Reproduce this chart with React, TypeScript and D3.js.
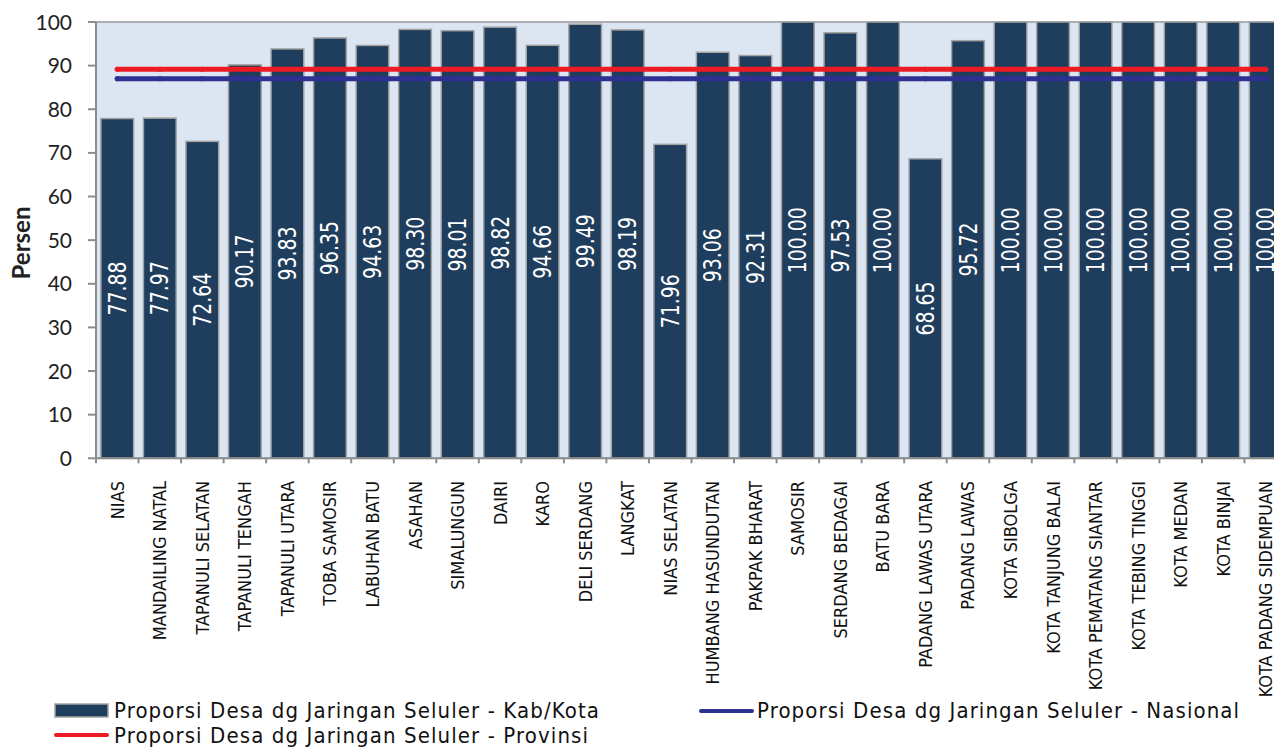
import React, { useEffect, useRef } from 'react';
import * as d3 from 'd3';

// kabupaten / kota
const categories = [
  'NIAS', 'MANDAILING NATAL', 'TAPANULI SELATAN', 'TAPANULI TENGAH', 'TAPANULI UTARA',
  'TOBA SAMOSIR', 'LABUHAN BATU', 'ASAHAN', 'SIMALUNGUN', 'DAIRI', 'KARO',
  'DELI SERDANG', 'LANGKAT', 'NIAS SELATAN', 'HUMBANG HASUNDUTAN', 'PAKPAK BHARAT',
  'SAMOSIR', 'SERDANG BEDAGAI', 'BATU BARA', 'PADANG LAWAS UTARA', 'PADANG LAWAS',
  'KOTA SIBOLGA', 'KOTA TANJUNG BALAI', 'KOTA PEMATANG SIANTAR', 'KOTA TEBING TINGGI',
  'KOTA MEDAN', 'KOTA BINJAI', 'KOTA PADANG SIDEMPUAN',
];
const kabKota = [
  77.88, 77.97, 72.64, 90.17, 93.83, 96.35, 94.63, 98.3, 98.01, 98.82, 94.66,
  99.49, 98.19, 71.96, 93.06, 92.31, 100, 97.53, 100, 68.65, 95.72,
  100, 100, 100, 100, 100, 100, 100,
];
const provinsi = 89.16;
const nasional = 87.0;
const yTicks = [0, 10, 20, 30, 40, 50, 60, 70, 80, 90, 100];

const labelBar = 'Proporsi Desa dg Jaringan Seluler - Kab/Kota';
const labelProv = 'Proporsi Desa dg Jaringan Seluler - Provinsi';
const labelNas = 'Proporsi Desa dg Jaringan Seluler - Nasional';

const W = 1274, H = 748;
const left = 96, right = 1287, top = 22, bottom = 458.3;
const BAR = '#1f3d5c', BAR_STROKE = '#a3a3a3', RED = '#ed1c24', BLUE = '#2e3192';
const CONDENSED = '"DejaVu Sans Condensed", "DejaVu Sans", sans-serif';

export default function App() {
  const ref = useRef<SVGSVGElement>(null);

  useEffect(() => {
    const svg = d3.select(ref.current);
    svg.selectAll('*').remove();

    const x = d3.scaleBand<string>().domain(categories).range([left, right])
      .paddingInner(0.23).paddingOuter(0.115);
    const y = d3.scaleLinear().domain([0, 100]).range([bottom, top]);
    const cx = (k: string) => x(k)! + x.bandwidth() / 2;

    // plot area
    svg.append('rect')
      .attr('x', left).attr('y', top)
      .attr('width', right - left).attr('height', bottom - top)
      .attr('fill', '#dce6f2').attr('stroke', '#999').attr('stroke-width', 1.5);

    // bars
    svg.selectAll('rect.bar')
      .data(kabKota)
      .enter()
      .append('rect')
      .attr('class', 'bar')
      .attr('x', (d, i) => x(categories[i])!)
      .attr('width', x.bandwidth())
      .attr('y', (d) => y(d))
      .attr('height', (d) => y(0) - y(d))
      .attr('fill', BAR)
      .attr('stroke', BAR_STROKE)
      .attr('stroke-width', 1.5);

    // value labels inside bars (a bit stretched across, like the original)
    svg.selectAll('text.val')
      .data(kabKota)
      .enter()
      .append('text')
      .attr('class', 'val')
      .attr('transform', (d, i) =>
        `translate(${cx(categories[i])},${(y(d) + y(0)) / 2}) rotate(-90) scale(1,1.15)`)
      .attr('text-anchor', 'middle')
      .attr('dominant-baseline', 'central')
      .attr('fill', '#fff')
      .style('font-family', CONDENSED)
      .style('font-size', '21px')
      .text((d) => d.toFixed(2));

    // reference lines
    [[nasional, BLUE], [provinsi, RED]].forEach(([v, c]) => {
      const pts = categories.map((k) => [cx(k), y(v as number)] as [number, number]);
      svg.append('path')
        .attr('d', d3.line()(pts))
        .attr('fill', 'none')
        .attr('stroke', c as string)
        .attr('stroke-width', 5)
        .attr('stroke-linecap', 'round');
      svg.selectAll(null)
        .data(pts)
        .enter()
        .append('circle')
        .attr('cx', (p) => p[0]).attr('cy', (p) => p[1]).attr('r', 2.6)
        .attr('fill', c as string).attr('opacity', 0.8);
    });

    // y axis
    svg.append('line')
      .attr('x1', left).attr('x2', left).attr('y1', top).attr('y2', bottom + 4)
      .attr('stroke', '#8c8c8c').attr('stroke-width', 2);
    const yt = svg.selectAll('g.yt').data(yTicks).enter().append('g')
      .attr('transform', (d) => `translate(0,${y(d)})`);
    yt.append('line').attr('x1', 88).attr('x2', left)
      .attr('stroke', '#8c8c8c').attr('stroke-width', 2);
    yt.append('text')
      .attr('x', 72).attr('dy', '0.36em')
      .attr('text-anchor', 'end')
      .attr('fill', '#222')
      .style('font-family', 'Lato, sans-serif')
      .style('font-size', '21px')
      .text((d) => d);

    svg.append('text')
      .attr('transform', 'translate(20,243) rotate(-90)')
      .attr('text-anchor', 'middle')
      .attr('dominant-baseline', 'central')
      .attr('fill', '#222')
      .style('font-family', 'Lato, sans-serif')
      .style('font-weight', 'bold')
      .style('font-size', '24px')
      .text('Persen');

    // x axis
    svg.append('line')
      .attr('x1', left).attr('x2', right).attr('y1', bottom).attr('y2', bottom)
      .attr('stroke', '#8c8c8c').attr('stroke-width', 2);
    const bounds = categories.map((k) => x(k)! - (x.step() - x.bandwidth()) / 2);
    svg.selectAll('line.xt').data(bounds).enter().append('line')
      .attr('x1', (d) => d).attr('x2', (d) => d)
      .attr('y1', bottom).attr('y2', bottom + 5)
      .attr('stroke', '#8c8c8c').attr('stroke-width', 2);

    svg.selectAll('text.cat').data(categories).enter().append('text')
      .attr('transform', (d) => `translate(${cx(d)},481) rotate(-90)`)
      .attr('text-anchor', 'end')
      .attr('dominant-baseline', 'central')
      .attr('fill', '#111')
      .style('font-family', CONDENSED)
      .style('font-size', '18px')
      .text((d) => d);

    // legend
    const lg = svg.append('g').style('font-family', CONDENSED).style('font-size', '22px')
      .style('letter-spacing', '1.1px');
    lg.append('rect').attr('x', 55).attr('y', 704).attr('width', 53).attr('height', 13)
      .attr('fill', BAR).attr('stroke', BAR_STROKE).attr('stroke-width', 1.5);
    lg.append('text').attr('x', 114).attr('y', 718).attr('fill', '#111').text(labelBar);
    lg.append('line').attr('x1', 56).attr('x2', 107).attr('y1', 735).attr('y2', 735)
      .attr('stroke', RED).attr('stroke-width', 4).attr('stroke-linecap', 'round');
    lg.append('text').attr('x', 114).attr('y', 743).attr('fill', '#111').text(labelProv);
    lg.append('line').attr('x1', 701).attr('x2', 752).attr('y1', 711).attr('y2', 711)
      .attr('stroke', BLUE).attr('stroke-width', 4).attr('stroke-linecap', 'round');
    lg.append('text').attr('x', 757).attr('y', 718).attr('fill', '#111').text(labelNas);
  }, []);

  return (
    <svg ref={ref} width={W} height={H}
      style={{ position: 'absolute', left: 0, top: 0, background: '#fff' }} />
  );
}
